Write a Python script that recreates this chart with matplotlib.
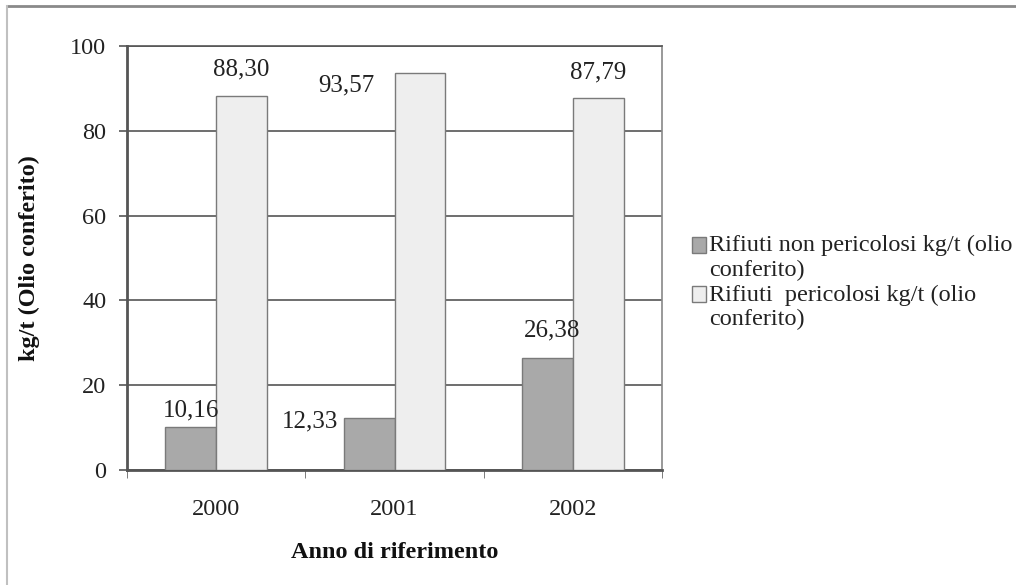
import matplotlib.pyplot as plt
import numpy as np
from matplotlib.lines import Line2D

years = ['2000', '2001', '2002']
non_pericolosi = [10.16, 12.33, 26.38]
pericolosi = [88.30, 93.57, 87.79]
labels_np = ['10,16', '12,33', '26,38']
labels_p = ['88,30', '93,57', '87,79']
legend_labels = ['Rifiuti non pericolosi kg/t (olio\nconferito)',
                 'Rifiuti  pericolosi kg/t (olio\nconferito)']

plt.rcParams['font.family'] = ['Liberation Serif', 'DejaVu Serif']


def plot_chart():
    fig = plt.figure(figsize=(10.16, 5.85), dpi=100)
    ax = fig.add_axes([0.125, 0.1966, 0.5266, 0.7248])

    x = np.arange(len(years))
    w = 0.285
    b1 = ax.bar(x - w / 2, non_pericolosi, w, color='#a9a9a9', edgecolor='#7a7a7a',
                linewidth=1, label=legend_labels[0], zorder=3)
    b2 = ax.bar(x + w / 2, pericolosi, w, color='#eeeeee', edgecolor='#7a7a7a',
                linewidth=1, label=legend_labels[1], zorder=3)

    # value labels, offsets in pixels as in the original
    offs_np = [((0, 16), 'center'), ((-31, -4), 'right'), ((5, 28), 'center')]
    offs_p = [((0, 26), 'center'), ((-45, -12), 'right'), ((0, 25), 'center')]
    for bars, labs, offs in [(b1, labels_np, offs_np), (b2, labels_p, offs_p)]:
        for r, lab, (off, ha) in zip(bars, labs, offs):
            ax.annotate(lab, (r.get_x() + r.get_width() / 2, r.get_height()),
                        xytext=off, textcoords='offset pixels', ha=ha, va='center',
                        fontsize=18, color='#222222')

    ax.set_xlim(-0.5, 2.5)
    ax.set_ylim(0, 100)
    ax.set_yticks([0, 20, 40, 60, 80, 100])
    ax.yaxis.grid(True, color='#555555', linewidth=1.2, zorder=0)
    ax.set_axisbelow(True)

    ax.set_xticks(x)
    ax.set_xticklabels(years)
    ax.set_xticks([-0.5, 0.5, 1.5, 2.5], minor=True)
    ax.tick_params(axis='x', which='major', length=0, pad=21, labelsize=17.5, labelcolor='#222222')
    ax.tick_params(axis='x', which='minor', length=6, color='#666666', direction='out')
    ax.tick_params(axis='y', length=6, color='#555555', width=1.2, pad=9,
                   labelsize=17.5, labelcolor='#222222')

    for s in ['left', 'bottom']:
        ax.spines[s].set_color('#555555')
        ax.spines[s].set_linewidth(2)
    ax.spines['top'].set_color('#555555')
    ax.spines['top'].set_linewidth(1.2)
    ax.spines['right'].set_color('#888888')
    ax.spines['right'].set_linewidth(1.2)

    ax.set_ylabel('kg/t (Olio conferito)', fontsize=17.5, fontweight='bold', color='#111111')
    ax.yaxis.set_label_coords(-0.163, 0.5)
    ax.set_xlabel('Anno di riferimento', fontsize=17.5, fontweight='bold', color='#111111')
    ax.xaxis.set_label_coords(0.5, -0.17)

    leg = fig.legend(loc='upper left', bbox_to_anchor=(0.681, 0.598), frameon=False,
                     fontsize=17.5, handlelength=0.6, handleheight=0.6, handletextpad=0.12,
                     labelspacing=0.15, borderpad=0, borderaxespad=0, labelcolor='#222222')
    # square markers sit next to the first line of each label
    for p in leg.legend_handles:
        p.set_y(p.get_y() + 9)

    # outer border of the picture (top and left only)
    fig.add_artist(Line2D([0.007, 1.0], [0.99, 0.99], transform=fig.transFigure,
                          color='#8a8a8a', linewidth=2))
    fig.add_artist(Line2D([0.007, 0.007], [0.0, 0.99], transform=fig.transFigure,
                          color='#c0c0c0', linewidth=1.5))

    fig.savefig('out.png', dpi=100)


if __name__ == "__main__":
    plot_chart()
